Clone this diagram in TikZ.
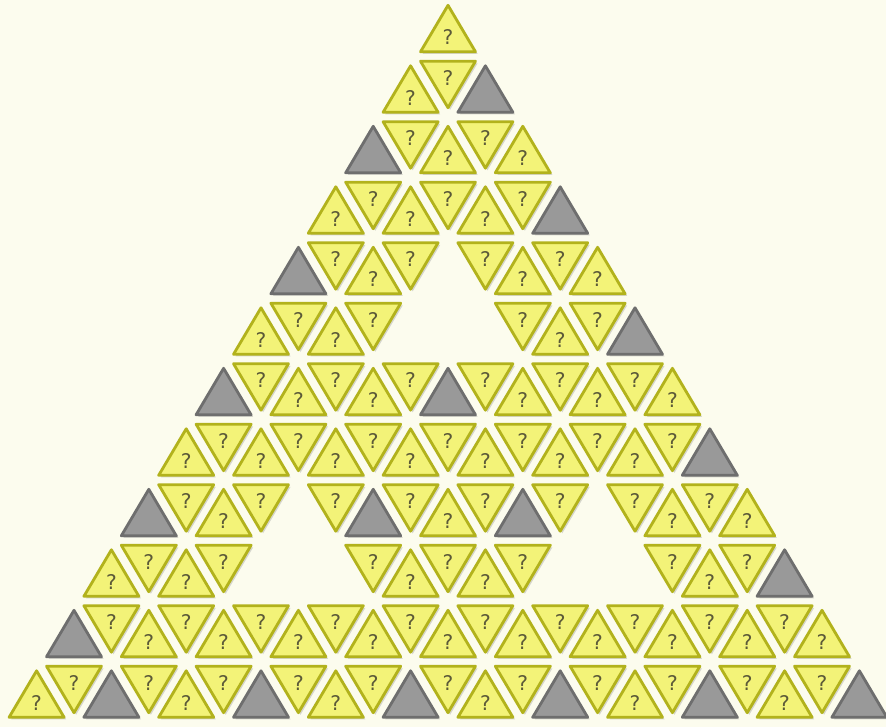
\documentclass[tikz,border=0pt]{standalone}
\usepackage{fontspec}
\newfontfamily\markfont{DejaVu Sans}
\usetikzlibrary{shadows}
\definecolor{puzzlebg}{HTML}{FCFCEE}
\definecolor{puzzleyellow}{HTML}{F3F378}
\definecolor{puzzleyellowedge}{HTML}{B2B21C}
\definecolor{puzzlegrey}{HTML}{999999}
\definecolor{puzzlegreyedge}{HTML}{6E6E6E}
\definecolor{puzzlemark}{HTML}{5C5A38}

% one row of tiles: #1 = row (0 at the top), #2 = cells (y = tile, g = grey tile, n = hole)
\newcommand{\tilerow}[2]{%
  \foreach \cell [count=\j from 0] in {#2} {
    \pgfmathsetmacro{\cx}{448+(\j-#1)*37.4}
    \pgfmathsetmacro{\ytop}{-4+#1*60.5}
    \ifodd\j\relax
      \pgfmathsetmacro{\cy}{\ytop+20.2}
      \def\dir{-1}
    \else
      \pgfmathsetmacro{\cy}{\ytop+40.3}
      \def\dir{1}
    \fi
    \if y\cell
      \draw[tile] ({\cx},{\cy-\dir*31}) -- ({\cx+27.5},{\cy+\dir*15.5}) -- ({\cx-27.5},{\cy+\dir*15.5}) -- cycle;
      \node[qmark] (q-#1-\j) at (\cx,{\cy+1}) {?};
    \fi
    \if g\cell
      \draw[greytile] ({\cx},{\cy-\dir*31}) -- ({\cx+27.5},{\cy+\dir*15.5}) -- ({\cx-27.5},{\cy+\dir*15.5}) -- cycle;
    \fi
  }}

\begin{document}
\begin{tikzpicture}[
  x=0.02cm, y=-0.02cm,
  tile/.style={draw=puzzleyellowedge, fill=puzzleyellow, line width=1.6pt, line join=round,
    drop shadow={shadow xshift=1.2pt, shadow yshift=-1.2pt, opacity=0.3}},
  greytile/.style={tile, draw=puzzlegreyedge, fill=puzzlegrey},
  qmark/.style={font=\markfont\fontsize{11.5}{13}\selectfont, text=puzzlemark, inner sep=0pt}
]

% Background
\useasboundingbox (0,0) rectangle (886,727);
\fill[puzzlebg] (0,0) rectangle (886,727);

% Rows, top to bottom
\tilerow{0}{y}
\tilerow{1}{y,y,g}
\tilerow{2}{g,y,y,y,y}
\tilerow{3}{y,y,y,y,y,y,g}
\tilerow{4}{g,y,y,y,n,y,y,y,y}
\tilerow{5}{y,y,y,y,n,n,n,y,y,y,g}
\tilerow{6}{g,y,y,y,y,y,g,y,y,y,y,y,y}
\tilerow{7}{y,y,y,y,y,y,y,y,y,y,y,y,y,y,g}
\tilerow{8}{g,y,y,y,n,y,g,y,y,y,g,y,n,y,y,y,y}
\tilerow{9}{y,y,y,y,n,n,n,y,y,y,y,y,n,n,n,y,y,y,g}
\tilerow{10}{g,y,y,y,y,y,y,y,y,y,y,y,y,y,y,y,y,y,y,y,y}
\tilerow{11}{y,y,g,y,y,y,g,y,y,y,g,y,y,y,g,y,y,y,g,y,y,y,g}

\end{tikzpicture}
\end{document}
